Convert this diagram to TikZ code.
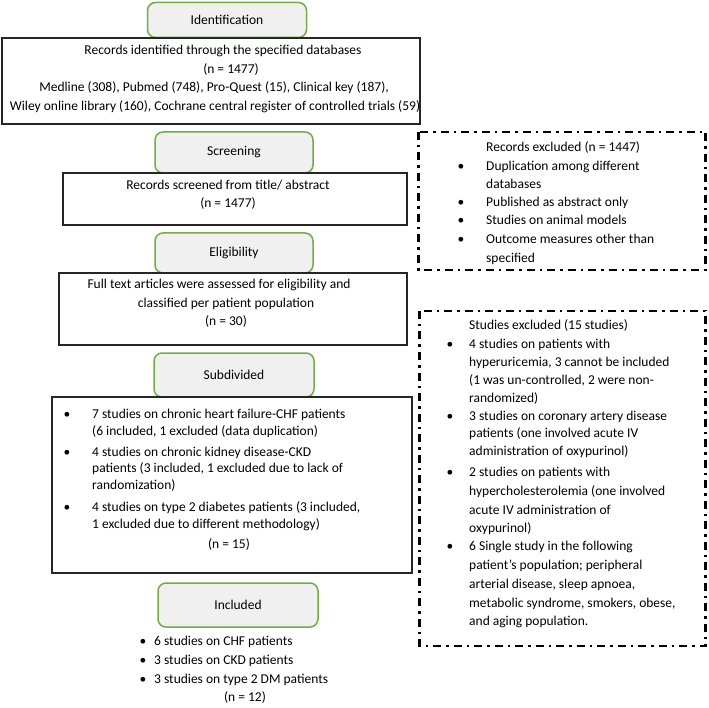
\documentclass[tikz,border=0pt]{standalone}
\usepackage{fontspec}
\setmainfont{Carlito}
\definecolor{stagegreen}{RGB}{112,173,71}
\definecolor{stagefill}{RGB}{240,240,240}
\definecolor{framecol}{RGB}{38,38,38}
\begin{document}
\begin{tikzpicture}[x=1pt,y=-1pt,
  stage/.style={draw=stagegreen, fill=stagefill, line width=1.5pt, rounded corners=8pt,
    inner sep=0pt, font=\fontsize{13.5}{16}\selectfont},
  frame/.style={draw=framecol, line width=2pt, inner sep=0pt},
  exclbox/.style={draw=black, line width=2.7pt, dash pattern=on 8pt off 5pt on 2.5pt off 5pt},
  txt/.style={inner sep=0pt, font=\fontsize{13.5}{16}\selectfont, anchor=mid west},
  ctxt/.style={txt, anchor=mid},
  bul/.style={txt, anchor=mid}
]
\useasboundingbox (0,0) rectangle (709,708);
\fill[white] (0,0) rectangle (709,708);

% stage boxes
\node[stage, minimum width=159pt, minimum height=35pt] (ident) at (227,20) {Identification};
\node[stage, minimum width=158pt, minimum height=41pt] (screen) at (234,152.5) {Screening};
\node[stage, minimum width=158pt, minimum height=40pt] (elig) at (234,253) {Eligibility};
\node[stage, minimum width=160pt, minimum height=44pt] (subd) at (234,375) {Subdivided};
\node[stage, minimum width=160pt, minimum height=44pt] (incl) at (238,605) {Included};

% black frames
\node[frame, minimum width=418pt, minimum height=86pt] (recbox) at (211,81) {};
\node[frame, minimum width=344pt, minimum height=52pt] (scrbox) at (234.5,199) {};
\node[frame, minimum width=348pt, minimum height=72pt] (fullbox) at (232.5,309) {};
\node[frame, minimum width=360pt, minimum height=176pt] (subbox) at (231.5,485) {};

% dash-dot exclusion frames
\draw[exclbox] (418.5,132) rectangle (705.5,270);
\draw[exclbox] (419.5,311) rectangle (705.5,646);

% identification texts
\node[ctxt] (r1) at (223,52) {Records identified through the specified databases};
\node[ctxt] (r2) at (231,71) {(n = 1477)};
\node[ctxt] (r3) at (214,89) {Medline (308), Pubmed (748), Pro-Quest (15), Clinical key (187),};
\node[ctxt] (r4) at (215,108) {Wiley online library (160), Cochrane central register of controlled trials (59)};

% screening texts
\node[ctxt] (s1) at (228,187) {Records screened from title/ abstract};
\node[ctxt] (s2) at (228,205) {(n = 1477)};

% eligibility texts
\node[ctxt] (e1) at (219,286) {Full text articles were assessed for eligibility and};
\node[ctxt] (e2) at (226,305) {classified per patient population};
\node[ctxt] (e3) at (226,323) {(n = 30)};

% subdivided texts
\node[bul] (sb1) at (67,416) {•};
\node[txt] (sd1) at (92,416) {7 studies on chronic heart failure-CHF patients};
\node[txt] (sd2) at (92,433) {(6 included, 1 excluded (data duplication)};
\node[bul] (sb2) at (67,454) {•};
\node[txt] (sd3) at (92,454) {4 studies on chronic kidney disease-CKD};
\node[txt] (sd4) at (92,470) {patients (3 included, 1 excluded due to lack of};
\node[txt] (sd5) at (92,487) {randomization)};
\node[bul] (sb3) at (67,509) {•};
\node[txt] (sd6) at (92,509) {4 studies on type 2 diabetes patients (3 included,};
\node[txt] (sd7) at (92,526) {1 excluded due to different methodology)};
\node[ctxt] (sd8) at (229,546) {(n = 15)};

% included texts
\node[bul] (ib1) at (143,643) {•};
\node[txt] (in1) at (154,643) {6 studies on CHF patients};
\node[bul] (ib2) at (143,662) {•};
\node[txt] (in2) at (154,662) {3 studies on CKD patients};
\node[bul] (ib3) at (143,681) {•};
\node[txt] (in3) at (154,681) {3 studies on type 2 DM patients};
\node[ctxt] (in4) at (245,699) {(n = 12)};

% records excluded texts
\node[txt] (x0) at (486,149) {Records excluded (n = 1447)};
\node[bul] (xb1) at (461,168) {•};
\node[txt] (x1) at (486,168) {Duplication among different};
\node[txt] (x2) at (486,186) {databases};
\node[bul] (xb2) at (461,204) {•};
\node[txt] (x3) at (486,204) {Published as abstract only};
\node[bul] (xb3) at (461,222) {•};
\node[txt] (x4) at (486,222) {Studies on animal models};
\node[bul] (xb4) at (461,241) {•};
\node[txt] (x5) at (486,241) {Outcome measures other than};
\node[txt] (x6) at (486,260) {specified};

% studies excluded texts
\node[txt] (y0) at (469,327) {Studies excluded (15 studies)};
\node[bul] (yb1) at (450,346) {•};
\node[txt] (y1) at (469,346) {4 studies on patients with};
\node[txt] (y2) at (469,364) {hyperuricemia, 3 cannot be included};
\node[txt] (y3) at (469,382) {(1 was un-controlled, 2 were non-};
\node[txt] (y4) at (469,400) {randomized)};
\node[bul] (yb2) at (450,418) {•};
\node[txt] (y5) at (469,418) {3 studies on coronary artery disease};
\node[txt] (y6) at (469,435) {patients (one involved acute IV};
\node[txt] (y7) at (469,453) {administration of oxypurinol)};
\node[bul] (yb3) at (450,474) {•};
\node[txt] (y8) at (469,474) {2 studies on patients with};
\node[txt] (y9) at (469,493) {hypercholesterolemia (one involved};
\node[txt] (y10) at (469,512) {acute IV administration of};
\node[txt] (y11) at (469,530) {oxypurinol)};
\node[bul] (yb4) at (450,548) {•};
\node[txt] (y12) at (469,548) {6 Single study in the following};
\node[txt] (y13) at (469,567) {patient’s population; peripheral};
\node[txt] (y14) at (469,586) {arterial disease, sleep apnoea,};
\node[txt] (y15) at (469,605) {metabolic syndrome, smokers, obese,};
\node[txt] (y16) at (469,623) {and aging population.};
\end{tikzpicture}
\end{document}
